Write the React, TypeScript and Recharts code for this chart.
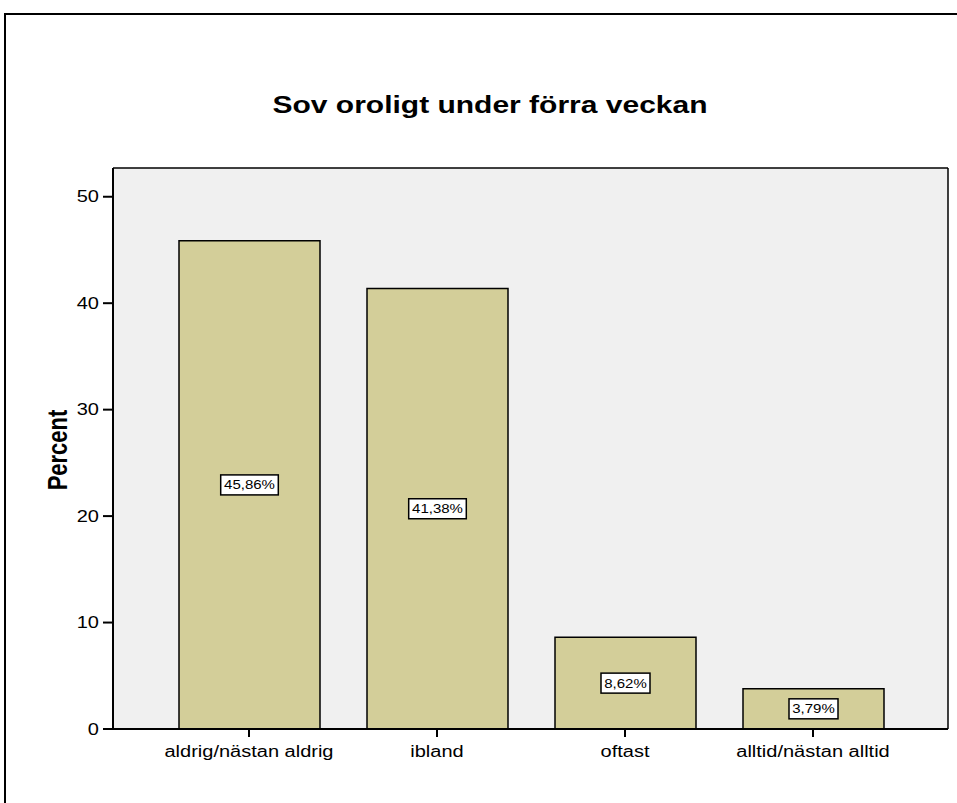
import React from "react";
import { BarChart, Bar, XAxis, YAxis, CartesianGrid, LabelList } from "recharts";

const categories = ["aldrig/nästan aldrig", "ibland", "oftast", "alltid/nästan alltid"];
const percents = [45.86, 41.38, 8.62, 3.79];
const yTicks = [0, 10, 20, 30, 40, 50];

const data = categories.map((name, i) => ({ name, value: percents[i] }));

// the reference is stretched sideways a bit, so text gets the same squeeze
const SX = 1.25;
const FONT = "'Liberation Sans', Arial, sans-serif";

const fmt = (v: number) => v.toFixed(2).replace(".", ",") + "%";

function XTick(props: any) {
  const { x, y, payload } = props;
  return (
    <g transform={`translate(${x},${y}) scale(${SX},1)`}>
      <text x={0} y={0} dy={18} textAnchor="middle" fontSize={16} fontFamily={FONT} fill="#000">
        {payload.value}
      </text>
    </g>
  );
}

function YTick(props: any) {
  const { x, y, payload } = props;
  return (
    <g transform={`translate(${x},${y}) scale(${SX},1)`}>
      <text x={0} y={0} dy={5.6} textAnchor="end" fontSize={16} fontFamily={FONT} fill="#000">
        {payload.value}
      </text>
    </g>
  );
}

function ValueBox(props: any) {
  const { x, y, width, height, value } = props;
  const cx = x + width / 2;
  const cy = y + height / 2;
  const txt = fmt(value);
  const w = txt.length * 8.6 + 6;
  return (
    <g>
      <rect x={cx - w / 2} y={cy - 10} width={w} height={20} fill="#fff" stroke="#000" strokeWidth={1.5} />
      <g transform={`translate(${cx},${cy}) scale(${SX},1)`}>
        <text x={0} y={0} dy={4.4} textAnchor="middle" fontSize={12} fontFamily={FONT} fill="#000">
          {txt}
        </text>
      </g>
    </g>
  );
}

function PercentLabel() {
  return (
    <g transform={`translate(67,450) rotate(-90) scale(1,${SX})`}>
      <text x={0} y={0} textAnchor="middle" fontSize={22} fontWeight="bold" fontFamily={FONT} fill="#000">
        Percent
      </text>
    </g>
  );
}

export default function App() {
  return (
    <div style={{ position: "absolute", left: 0, top: 0, width: 957, height: 803, overflow: "hidden", background: "#fff" }}>
      <div style={{ position: "absolute", left: 4, top: 13, width: 1000, height: 1000, border: "2px solid #000" }} />
      <svg width={957} height={140} style={{ position: "absolute", left: 0, top: 0 }}>
        <g transform={`translate(490,113) scale(${SX},1)`}>
          <text x={0} y={0} textAnchor="middle" fontSize={24} fontWeight="bold" fontFamily={FONT} fill="#000">
            Sov oroligt under förra veckan
          </text>
        </g>
      </svg>
      <div style={{ position: "absolute", left: 0, top: 0 }}>
        <BarChart width={957} height={803} data={data} margin={{ top: 166, right: 7, bottom: 34, left: 53 }}>
          <CartesianGrid horizontal={false} vertical={false} fill="#f0f0f0" />
          <XAxis
            dataKey="name"
            height={40}
            padding={{ left: 42, right: 41 }}
            axisLine={{ stroke: "#000", strokeWidth: 2 }}
            tickLine={{ stroke: "#000", strokeWidth: 2 }}
            tickSize={8}
            tickMargin={2}
            tick={<XTick />}
            interval={0}
          />
          <XAxis
            xAxisId="top"
            orientation="top"
            dataKey="name"
            height={2}
            tick={false}
            tickLine={false}
            axisLine={{ stroke: "#000", strokeWidth: 1.5 }}
          />
          <YAxis
            width={60}
            domain={[0, 52.7]}
            ticks={yTicks}
            interval={0}
            axisLine={{ stroke: "#000", strokeWidth: 2 }}
            tickLine={{ stroke: "#000", strokeWidth: 2 }}
            tickSize={10}
            tickMargin={4}
            tick={<YTick />}
          />
          <YAxis
            yAxisId="right"
            orientation="right"
            width={2}
            tick={false}
            tickLine={false}
            axisLine={{ stroke: "#000", strokeWidth: 1.5 }}
            domain={[0, 52.7]}
          />
          <Bar dataKey="value" fill="#d3ce99" stroke="#000" strokeWidth={1.5} barSize={141} isAnimationActive={false}>
            <LabelList dataKey="value" content={<ValueBox />} />
          </Bar>
        </BarChart>
      </div>
      <svg width={120} height={803} style={{ position: "absolute", left: 0, top: 0 }}>
        <PercentLabel />
      </svg>
    </div>
  );
}
